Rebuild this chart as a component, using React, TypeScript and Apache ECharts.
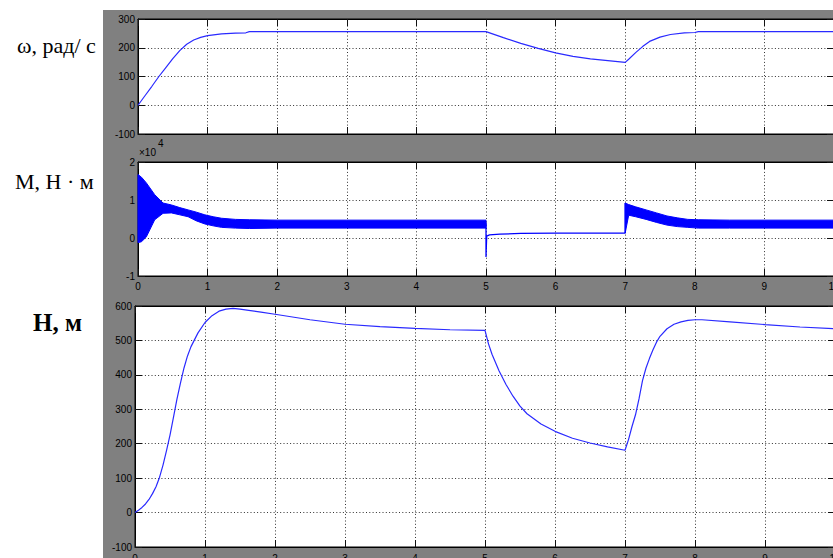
import React, { useEffect, useRef } from "react";
import * as echarts from "echarts";

// ω, rad/s
const omegaT = [0, 0.1, 0.2, 0.3, 0.4, 0.5, 0.6, 0.7, 0.8, 0.9, 1.0, 1.2, 1.4, 1.55, 1.6, 5.0, 5.25, 5.5, 5.75, 6.0, 6.25, 6.5, 6.75, 7.0, 7.05, 7.15, 7.25, 7.35, 7.5, 7.65, 7.85, 8.0, 8.05, 10];
const omegaV = [0, 33, 66, 100, 131, 162, 190, 212, 227, 236, 242, 248, 251, 252, 256, 256, 235, 215, 198, 182, 170, 161, 155, 149, 160, 183, 204, 222, 237, 246, 252, 253, 256, 256];

// M, N·m (×10^4): oscillation envelope, 0..5 s
const mBandAT = [0, 0.05, 0.12, 0.24, 0.36, 0.48, 0.6, 0.72, 0.84, 0.96, 1.08, 1.2, 1.4, 1.6, 2, 3, 4, 5];
const mBandAUp = [1.67, 1.6, 1.45, 1.14, 0.92, 0.87, 0.8, 0.74, 0.68, 0.61, 0.56, 0.52, 0.49, 0.48, 0.47, 0.47, 0.47, 0.47];
const mBandALo = [-0.12, -0.1, 0.03, 0.48, 0.65, 0.66, 0.61, 0.56, 0.45, 0.37, 0.32, 0.28, 0.26, 0.25, 0.26, 0.26, 0.26, 0.26];
// thin segment 5..7 s
const mThinT = [5, 5, 5.01, 5.05, 5.2, 5.5, 6, 7, 7];
const mThinV = [0.4, -0.5, 0.05, 0.08, 0.1, 0.12, 0.13, 0.13, 0.92];
// oscillation envelope, 7..10 s
const mBandBT = [7, 7.05, 7.15, 7.3, 7.45, 7.6, 7.75, 7.9, 8.05, 8.5, 9, 10];
const mBandBUp = [0.92, 0.88, 0.82, 0.74, 0.66, 0.58, 0.53, 0.49, 0.48, 0.47, 0.47, 0.47];
const mBandBLo = [0.13, 0.6, 0.56, 0.49, 0.41, 0.34, 0.3, 0.28, 0.26, 0.26, 0.26, 0.26];

// H, m
const hT = [0, 0.05, 0.1, 0.15, 0.2, 0.25, 0.3, 0.35, 0.4, 0.45, 0.5, 0.55, 0.6, 0.65, 0.7, 0.75, 0.8, 0.9, 1.0, 1.1, 1.2, 1.3, 1.4, 1.5, 1.6, 1.8, 2.0, 2.5, 3.0, 3.5, 4.0, 4.5, 5.0, 5.05, 5.1, 5.2, 5.3, 5.4, 5.5, 5.6, 5.8, 6.0, 6.25, 6.5, 6.75, 7.0, 7.05, 7.1, 7.15, 7.2, 7.25, 7.3, 7.35, 7.4, 7.45, 7.5, 7.6, 7.7, 7.8, 7.9, 8.0, 8.1, 8.5, 9.0, 9.5, 10];
const hV = [0, 7, 15, 25, 38, 55, 75, 102, 138, 180, 225, 277, 330, 377, 420, 455, 482, 522, 552, 572, 585, 591, 593, 591, 588, 582, 576, 560, 547, 540, 535, 531, 529, 490, 460, 412, 372, 338, 309, 287, 257, 236, 216, 202, 191, 181, 212, 250, 284, 330, 383, 420, 448, 473, 495, 512, 534, 547, 554, 558, 560, 560, 554, 546, 539, 534];

const yRanges = [
  { min: -100, max: 300, interval: 100 },
  { min: -1, max: 2, interval: 1 },
  { min: -100, max: 600, interval: 100 },
];

const labelFont = "'Liberation Sans', Arial, sans-serif";
const serif = "'Liberation Serif', 'Times New Roman', serif";
const LINE = "#2a2aff";

function pairs(t: number[], v: number[]) {
  return t.map((x, i) => [x, v[i]]);
}

export default function App() {
  const ref = useRef<HTMLDivElement>(null);
  useEffect(() => {
    const chart = echarts.init(ref.current!, null, { renderer: "svg" });
    const xAxes: any[] = [];
    const yAxes: any[] = [];
    const tick = { show: true, inside: true, length: 7, lineStyle: { color: "#111", width: 1 } };
    const axisLine = { show: true, onZero: false, lineStyle: { color: "#000", width: 1 } };
    const split = { show: true, lineStyle: { type: [1, 2.3], color: "#333", width: 1 } };
    const xMargins = [5, 5, 6];
    for (let g = 0; g < 3; g++) {
      xAxes.push({
        type: "value", gridIndex: g, min: 0, max: 10, interval: 1, position: "bottom",
        axisLine, axisTick: tick,
        axisLabel: { show: g > 0, color: "#000", fontSize: 10, margin: xMargins[g], fontFamily: labelFont },
        splitLine: split,
      });
      xAxes.push({
        type: "value", gridIndex: g, min: 0, max: 10, interval: 1, position: "top",
        axisLine, axisTick: tick, axisLabel: { show: false }, splitLine: { show: false },
      });
      yAxes.push({
        type: "value", gridIndex: g, ...yRanges[g], position: "left",
        axisLine, axisTick: tick,
        axisLabel: { show: true, color: "#000", fontSize: 10, margin: 3, fontFamily: labelFont },
        splitLine: split,
      });
      yAxes.push({
        type: "value", gridIndex: g, ...yRanges[g], position: "right",
        axisLine, axisTick: tick, axisLabel: { show: false }, splitLine: { show: false },
      });
    }
    const gridBase = { show: true, backgroundColor: "#fff", borderColor: "#000", borderWidth: 1, containLabel: false, outerBoundsMode: "none" };
    const option: any = {
      animation: false,
      backgroundColor: "#fff",
      grid: [
        { ...gridBase, left: 138, top: 19, width: 696, height: 115 },
        { ...gridBase, left: 138, top: 162, width: 696, height: 114 },
        { ...gridBase, left: 135, top: 306, width: 700, height: 241 },
      ],
      xAxis: xAxes,
      yAxis: yAxes,
      graphic: [
        { type: "rect", z: -100, shape: { x: 103, y: 10, width: 730, height: 548 }, style: { fill: "#808080" } },
        { type: "text", x: 17, y: 45, style: { text: "ω, рад/ с", fontSize: 22, fontFamily: serif, fill: "#000", textVerticalAlign: "middle", verticalAlign: "middle" } },
        { type: "text", x: 15, y: 181, style: { text: "М, Н · м", fontSize: 22, fontFamily: serif, fill: "#000", textVerticalAlign: "middle", verticalAlign: "middle" } },
        { type: "text", x: 33, y: 322, style: { text: "Н, м", fontSize: 25, fontWeight: "bold", fontFamily: serif, fill: "#000", textVerticalAlign: "middle", verticalAlign: "middle" } },
        { type: "text", x: 139, y: 152, style: { text: "×10", fontSize: 10, fontFamily: labelFont, fill: "#000", textVerticalAlign: "middle", verticalAlign: "middle" } },
        { type: "text", x: 158, y: 143, style: { text: "4", fontSize: 10, fontFamily: labelFont, fill: "#000", textVerticalAlign: "middle", verticalAlign: "middle" } },
      ],
      series: [
        {
          type: "line", xAxisIndex: 0, yAxisIndex: 0, data: pairs(omegaT, omegaV),
          showSymbol: false, symbol: "none", lineStyle: { color: LINE, width: 1.2 }, silent: true,
        },
        {
          type: "custom", xAxisIndex: 2, yAxisIndex: 2, data: [[0, 0]], silent: true,
          renderItem: (_p: any, api: any) => {
            const poly = (ts: number[], up: number[], lo: number[]) => {
              const pts: number[][] = [];
              for (let i = 0; i < ts.length; i++) pts.push(api.coord([ts[i], up[i]]));
              for (let i = ts.length - 1; i >= 0; i--) pts.push(api.coord([ts[i], lo[i]]));
              return { type: "polygon", shape: { points: pts }, style: { fill: "#0000ff", stroke: "#0000ff", lineWidth: 1 } };
            };
            return {
              type: "group",
              children: [poly(mBandAT, mBandAUp, mBandALo), poly(mBandBT, mBandBUp, mBandBLo)],
            };
          },
        },
        {
          type: "line", xAxisIndex: 2, yAxisIndex: 2, data: pairs(mThinT, mThinV),
          showSymbol: false, symbol: "none", lineStyle: { color: "#0000ff", width: 1.3 }, silent: true,
        },
        {
          type: "line", xAxisIndex: 4, yAxisIndex: 4, data: pairs(hT, hV),
          showSymbol: false, symbol: "none", lineStyle: { color: LINE, width: 1.2 }, silent: true,
        },
      ],
    };
    chart.setOption(option);
    return () => chart.dispose();
  }, []);
  return <div ref={ref} style={{ position: "fixed", left: 0, top: 0, width: 833, height: 558 }} />;
}
